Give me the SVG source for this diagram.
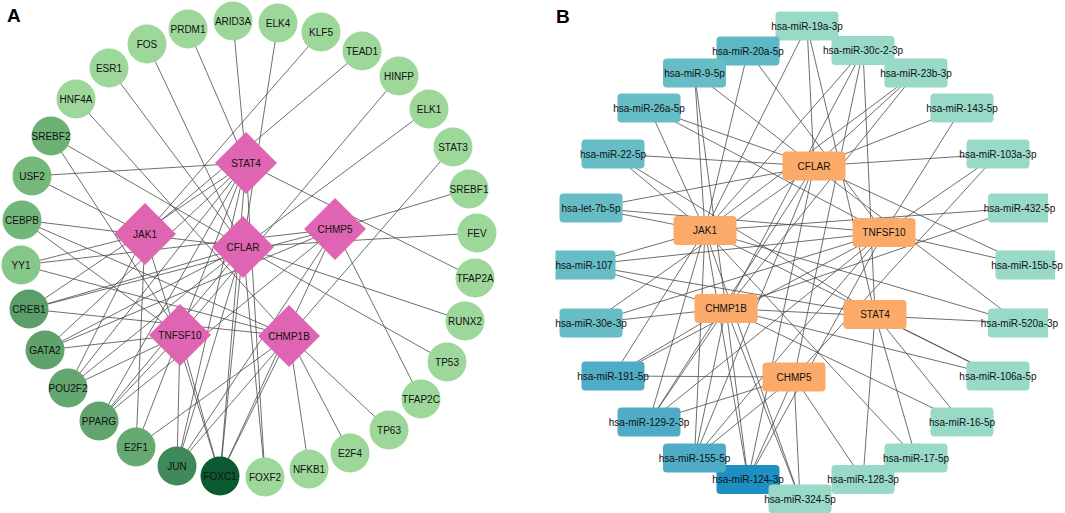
<svg xmlns="http://www.w3.org/2000/svg" width="1065" height="513" viewBox="0 0 1065 513">
<style>
text{font-family:"Liberation Sans",Arial,sans-serif;fill:#111;text-anchor:middle}
.ta{font-size:10px}
.tb{font-size:10px}
.lbl{font-size:19px;font-weight:bold;text-anchor:start;fill:#000}
.e line{stroke:#4a4a4a;stroke-width:0.8}
.lg{fill:#9dd79a}
.dm{fill:#df64b2}
.or{fill:#fbaa69}
.mt{fill:#98d9c8}
.tl{fill:#67bdc5}
.td{fill:#4eacc6}
</style>
<rect width="1065" height="513" fill="#fff"/>
<text class="lbl" x="7" y="22">A</text>
<text class="lbl" x="556" y="23">B</text>

<g id="edges-A" class="e">
<line x1="246" y1="163" x2="188" y2="29"/>
<line x1="246" y1="163" x2="233" y2="21"/>
<line x1="246" y1="163" x2="32" y2="176"/>
<line x1="246" y1="163" x2="475" y2="278"/>
<line x1="246" y1="163" x2="220" y2="476"/>
<line x1="246" y1="163" x2="177" y2="466"/>
<line x1="246" y1="163" x2="45" y2="350"/>
<line x1="246" y1="163" x2="68" y2="388"/>
<line x1="246" y1="163" x2="99" y2="421"/>
<line x1="246" y1="163" x2="29" y2="309"/>
<line x1="246" y1="163" x2="265" y2="477"/>
<line x1="246" y1="163" x2="136" y2="447"/>
<line x1="145" y1="234" x2="362" y2="51"/>
<line x1="145" y1="234" x2="321" y2="32"/>
<line x1="145" y1="234" x2="32" y2="176"/>
<line x1="145" y1="234" x2="136" y2="447"/>
<line x1="145" y1="234" x2="21" y2="265"/>
<line x1="145" y1="234" x2="220" y2="476"/>
<line x1="145" y1="234" x2="68" y2="388"/>
<line x1="243" y1="247" x2="147" y2="44"/>
<line x1="243" y1="247" x2="109" y2="68"/>
<line x1="243" y1="247" x2="51" y2="136"/>
<line x1="243" y1="247" x2="278" y2="23"/>
<line x1="243" y1="247" x2="429" y2="109"/>
<line x1="243" y1="247" x2="465" y2="321"/>
<line x1="243" y1="247" x2="447" y2="362"/>
<line x1="243" y1="247" x2="477" y2="233"/>
<line x1="243" y1="247" x2="29" y2="309"/>
<line x1="243" y1="247" x2="45" y2="350"/>
<line x1="243" y1="247" x2="68" y2="388"/>
<line x1="243" y1="247" x2="99" y2="421"/>
<line x1="243" y1="247" x2="177" y2="466"/>
<line x1="243" y1="247" x2="265" y2="477"/>
<line x1="243" y1="247" x2="220" y2="476"/>
<line x1="243" y1="247" x2="22" y2="220"/>
<line x1="335" y1="229" x2="469" y2="189"/>
<line x1="335" y1="229" x2="421" y2="399"/>
<line x1="335" y1="229" x2="45" y2="350"/>
<line x1="335" y1="229" x2="29" y2="309"/>
<line x1="335" y1="229" x2="99" y2="421"/>
<line x1="335" y1="229" x2="177" y2="466"/>
<line x1="335" y1="229" x2="220" y2="476"/>
<line x1="335" y1="229" x2="21" y2="265"/>
<line x1="180" y1="335" x2="51" y2="136"/>
<line x1="180" y1="335" x2="399" y2="76"/>
<line x1="180" y1="335" x2="45" y2="350"/>
<line x1="180" y1="335" x2="68" y2="388"/>
<line x1="180" y1="335" x2="177" y2="466"/>
<line x1="180" y1="335" x2="220" y2="476"/>
<line x1="180" y1="335" x2="99" y2="421"/>
<line x1="180" y1="335" x2="22" y2="220"/>
<line x1="289" y1="336" x2="76" y2="99"/>
<line x1="289" y1="336" x2="22" y2="220"/>
<line x1="289" y1="336" x2="21" y2="265"/>
<line x1="289" y1="336" x2="29" y2="309"/>
<line x1="289" y1="336" x2="136" y2="447"/>
<line x1="289" y1="336" x2="177" y2="466"/>
<line x1="289" y1="336" x2="220" y2="476"/>
<line x1="289" y1="336" x2="309" y2="469"/>
<line x1="289" y1="336" x2="350" y2="453"/>
<line x1="289" y1="336" x2="389" y2="430"/>
<line x1="289" y1="336" x2="453" y2="147"/>
</g>

<g id="n-FOS"><circle class="lg" cx="147" cy="44" r="19.5"/><text class="ta" x="147" y="47.5">FOS</text></g>
<g id="n-PRDM1"><circle class="lg" cx="188" cy="29" r="19.5"/><text class="ta" x="188" y="32.5">PRDM1</text></g>
<g id="n-ARID3A"><circle class="lg" cx="233" cy="21" r="19.5"/><text class="ta" x="233" y="24.5">ARID3A</text></g>
<g id="n-ELK4"><circle class="lg" cx="278" cy="23" r="19.5"/><text class="ta" x="278" y="26.5">ELK4</text></g>
<g id="n-KLF5"><circle class="lg" cx="321" cy="32" r="19.5"/><text class="ta" x="321" y="35.5">KLF5</text></g>
<g id="n-TEAD1"><circle class="lg" cx="362" cy="51" r="19.5"/><text class="ta" x="362" y="54.5">TEAD1</text></g>
<g id="n-HINFP"><circle class="lg" cx="399" cy="76" r="19.5"/><text class="ta" x="399" y="79.5">HINFP</text></g>
<g id="n-ELK1"><circle class="lg" cx="429" cy="109" r="19.5"/><text class="ta" x="429" y="112.5">ELK1</text></g>
<g id="n-STAT3"><circle class="lg" cx="453" cy="147" r="19.5"/><text class="ta" x="453" y="150.5">STAT3</text></g>
<g id="n-SREBF1"><circle class="lg" cx="469" cy="189" r="19.5"/><text class="ta" x="469" y="192.5">SREBF1</text></g>
<g id="n-FEV"><circle class="lg" cx="477" cy="233" r="19.5"/><text class="ta" x="477" y="236.5">FEV</text></g>
<g id="n-TFAP2A"><circle class="lg" cx="475" cy="278" r="19.5"/><text class="ta" x="475" y="281.5">TFAP2A</text></g>
<g id="n-RUNX2"><circle class="lg" cx="465" cy="321" r="19.5"/><text class="ta" x="465" y="324.5">RUNX2</text></g>
<g id="n-TP53"><circle class="lg" cx="447" cy="362" r="19.5"/><text class="ta" x="447" y="365.5">TP53</text></g>
<g id="n-TFAP2C"><circle class="lg" cx="421" cy="399" r="19.5"/><text class="ta" x="421" y="402.5">TFAP2C</text></g>
<g id="n-TP63"><circle class="lg" cx="389" cy="430" r="19.5"/><text class="ta" x="389" y="433.5">TP63</text></g>
<g id="n-E2F4"><circle class="lg" cx="350" cy="453" r="19.5"/><text class="ta" x="350" y="456.5">E2F4</text></g>
<g id="n-NFKB1"><circle class="lg" cx="309" cy="469" r="19.5"/><text class="ta" x="309" y="472.5">NFKB1</text></g>
<g id="n-FOXF2"><circle class="lg" cx="265" cy="477" r="19.5"/><text class="ta" x="265" y="480.5">FOXF2</text></g>
<g id="n-FOXC1"><circle cx="220" cy="476" r="19.5" fill="#0c5a32"/><text class="ta" x="220" y="479.5">FOXC1</text></g>
<g id="n-JUN"><circle cx="177" cy="466" r="19.5" fill="#3e8a5a"/><text class="ta" x="177" y="469.5">JUN</text></g>
<g id="n-E2F1"><circle cx="136" cy="447" r="19.5" fill="#66aa72"/><text class="ta" x="136" y="450.5">E2F1</text></g>
<g id="n-PPARG"><circle cx="99" cy="421" r="19.5" fill="#62a46e"/><text class="ta" x="99" y="424.5">PPARG</text></g>
<g id="n-POU2F2"><circle cx="68" cy="388" r="19.5" fill="#63a66f"/><text class="ta" x="68" y="391.5">POU2F2</text></g>
<g id="n-GATA2"><circle cx="45" cy="350" r="19.5" fill="#5fa26c"/><text class="ta" x="45" y="353.5">GATA2</text></g>
<g id="n-CREB1"><circle cx="29" cy="309" r="19.5" fill="#5c9e69"/><text class="ta" x="29" y="312.5">CREB1</text></g>
<g id="n-YY1"><circle cx="21" cy="265" r="19.5" fill="#86c78a"/><text class="ta" x="21" y="268.5">YY1</text></g>
<g id="n-CEBPB"><circle cx="22" cy="220" r="19.5" fill="#72b77a"/><text class="ta" x="22" y="223.5">CEBPB</text></g>
<g id="n-USF2"><circle cx="32" cy="176" r="19.5" fill="#74b97b"/><text class="ta" x="32" y="179.5">USF2</text></g>
<g id="n-SREBF2"><circle cx="51" cy="136" r="19.5" fill="#6db275"/><text class="ta" x="51" y="139.5">SREBF2</text></g>
<g id="n-HNF4A"><circle class="lg" cx="76" cy="99" r="19.5"/><text class="ta" x="76" y="102.5">HNF4A</text></g>
<g id="n-ESR1"><circle class="lg" cx="109" cy="68" r="19.5"/><text class="ta" x="109" y="71.5">ESR1</text></g>

<g id="n-A-STAT4"><polygon class="dm" points="246,132 277,163 246,194 215,163"/><text class="ta" x="246" y="166.5">STAT4</text></g>
<g id="n-A-JAK1"><polygon class="dm" points="145,203 176,234 145,265 114,234"/><text class="ta" x="145" y="237.5">JAK1</text></g>
<g id="n-A-CFLAR"><polygon class="dm" points="243,216 274,247 243,278 212,247"/><text class="ta" x="243" y="250.5">CFLAR</text></g>
<g id="n-A-CHMP5"><polygon class="dm" points="335,198 366,229 335,260 304,229"/><text class="ta" x="335" y="232.5">CHMP5</text></g>
<g id="n-A-TNFSF10"><polygon class="dm" points="180,304 211,335 180,366 149,335"/><text class="ta" x="180" y="338.5">TNFSF10</text></g>
<g id="n-A-CHMP1B"><polygon class="dm" points="289,305 320,336 289,367 258,336"/><text class="ta" x="289" y="339.5">CHMP1B</text></g>

<g id="edges-B" class="e">
<line x1="814" y1="166" x2="807" y2="26"/>
<line x1="814" y1="166" x2="694.5" y2="73"/>
<line x1="814" y1="166" x2="649" y2="108"/>
<line x1="814" y1="166" x2="613" y2="154"/>
<line x1="814" y1="166" x2="962" y2="108"/>
<line x1="814" y1="166" x2="998" y2="154"/>
<line x1="814" y1="166" x2="1019.5" y2="323"/>
<line x1="814" y1="166" x2="748" y2="479.5"/>
<line x1="814" y1="166" x2="694.5" y2="458"/>
<line x1="814" y1="166" x2="591" y2="323"/>
<line x1="814" y1="166" x2="649" y2="422"/>
<line x1="814" y1="166" x2="1027" y2="265"/>
<line x1="814" y1="166" x2="591" y2="208"/>
<line x1="814" y1="166" x2="916" y2="73"/>
<line x1="705" y1="230.5" x2="748" y2="51"/>
<line x1="705" y1="230.5" x2="694.5" y2="73"/>
<line x1="705" y1="230.5" x2="649" y2="108"/>
<line x1="705" y1="230.5" x2="613" y2="154"/>
<line x1="705" y1="230.5" x2="591" y2="208"/>
<line x1="705" y1="230.5" x2="807" y2="26"/>
<line x1="705" y1="230.5" x2="863" y2="50.5"/>
<line x1="705" y1="230.5" x2="916" y2="73"/>
<line x1="705" y1="230.5" x2="1019.5" y2="208"/>
<line x1="705" y1="230.5" x2="1019.5" y2="323"/>
<line x1="705" y1="230.5" x2="998" y2="376"/>
<line x1="705" y1="230.5" x2="916" y2="458"/>
<line x1="705" y1="230.5" x2="584" y2="265"/>
<line x1="705" y1="230.5" x2="748" y2="479.5"/>
<line x1="705" y1="230.5" x2="694.5" y2="458"/>
<line x1="705" y1="230.5" x2="800" y2="499"/>
<line x1="705" y1="230.5" x2="613" y2="376"/>
<line x1="705" y1="230.5" x2="649" y2="422"/>
<line x1="884" y1="232.5" x2="748" y2="51"/>
<line x1="884" y1="232.5" x2="649" y2="108"/>
<line x1="884" y1="232.5" x2="962" y2="108"/>
<line x1="884" y1="232.5" x2="998" y2="154"/>
<line x1="884" y1="232.5" x2="694.5" y2="458"/>
<line x1="884" y1="232.5" x2="748" y2="479.5"/>
<line x1="884" y1="232.5" x2="591" y2="208"/>
<line x1="884" y1="232.5" x2="584" y2="265"/>
<line x1="884" y1="232.5" x2="613" y2="376"/>
<line x1="884" y1="232.5" x2="649" y2="422"/>
<line x1="884" y1="232.5" x2="1027" y2="265"/>
<line x1="884" y1="232.5" x2="591" y2="323"/>
<line x1="726" y1="308.5" x2="694.5" y2="73"/>
<line x1="726" y1="308.5" x2="863" y2="50.5"/>
<line x1="726" y1="308.5" x2="916" y2="73"/>
<line x1="726" y1="308.5" x2="1019.5" y2="208"/>
<line x1="726" y1="308.5" x2="998" y2="376"/>
<line x1="726" y1="308.5" x2="962" y2="422"/>
<line x1="726" y1="308.5" x2="800" y2="499"/>
<line x1="726" y1="308.5" x2="694.5" y2="458"/>
<line x1="726" y1="308.5" x2="748" y2="479.5"/>
<line x1="726" y1="308.5" x2="591" y2="323"/>
<line x1="726" y1="308.5" x2="613" y2="376"/>
<line x1="726" y1="308.5" x2="649" y2="422"/>
<line x1="726" y1="308.5" x2="584" y2="265"/>
<line x1="726" y1="308.5" x2="1019.5" y2="323"/>
<line x1="875" y1="314.5" x2="998" y2="376"/>
<line x1="875" y1="314.5" x2="962" y2="422"/>
<line x1="875" y1="314.5" x2="916" y2="458"/>
<line x1="875" y1="314.5" x2="863" y2="479.5"/>
<line x1="875" y1="314.5" x2="807" y2="26"/>
<line x1="875" y1="314.5" x2="863" y2="50.5"/>
<line x1="875" y1="314.5" x2="584" y2="265"/>
<line x1="875" y1="314.5" x2="613" y2="154"/>
<line x1="794" y1="377" x2="613" y2="376"/>
<line x1="794" y1="377" x2="649" y2="422"/>
<line x1="794" y1="377" x2="863" y2="479.5"/>
<line x1="794" y1="377" x2="748" y2="479.5"/>
<line x1="794" y1="377" x2="694.5" y2="458"/>
<line x1="794" y1="377" x2="863" y2="50.5"/>
<line x1="794" y1="377" x2="998" y2="154"/>
<line x1="794" y1="377" x2="800" y2="499"/>
</g>

<g id="n-miR-19a-3p"><rect class="mt" x="775.5" y="11.5" width="63" height="29" rx="4"/><text class="tb" x="807" y="29.5">hsa-miR-19a-3p</text></g>
<g id="n-miR-30c-2-3p"><rect class="mt" x="831.5" y="36" width="63" height="29" rx="4"/><text class="tb" x="863" y="54">hsa-miR-30c-2-3p</text></g>
<g id="n-miR-23b-3p"><rect class="mt" x="884.5" y="58.5" width="63" height="29" rx="4"/><text class="tb" x="916" y="76.5">hsa-miR-23b-3p</text></g>
<g id="n-miR-143-5p"><rect class="mt" x="930.5" y="93.5" width="63" height="29" rx="4"/><text class="tb" x="962" y="111.5">hsa-miR-143-5p</text></g>
<g id="n-miR-103a-3p"><rect class="mt" x="966.5" y="139.5" width="63" height="29" rx="4"/><text class="tb" x="998" y="157.5">hsa-miR-103a-3p</text></g>
<g id="n-miR-432-5p"><path class="mt" d="M992,193.5H1048V222.5H992A4,4 0 0 1 988,218.5V197.5A4,4 0 0 1 992,193.5Z"/><text class="tb" x="1019.5" y="211.5">hsa-miR-432-5p</text></g>
<g id="n-miR-15b-5p"><path class="mt" d="M999.5,250.5H1055V279.5H999.5A4,4 0 0 1 995.5,275.5V254.5A4,4 0 0 1 999.5,250.5Z"/><text class="tb" x="1027" y="268.5">hsa-miR-15b-5p</text></g>
<g id="n-miR-520a-3p"><path class="mt" d="M992,308.5H1048V337.5H992A4,4 0 0 1 988,333.5V312.5A4,4 0 0 1 992,308.5Z"/><text class="tb" x="1019.5" y="326.5">hsa-miR-520a-3p</text></g>
<g id="n-miR-106a-5p"><rect class="mt" x="966.5" y="361.5" width="63" height="29" rx="4"/><text class="tb" x="998" y="379.5">hsa-miR-106a-5p</text></g>
<g id="n-miR-16-5p"><rect class="mt" x="930.5" y="407.5" width="63" height="29" rx="4"/><text class="tb" x="962" y="425.5">hsa-miR-16-5p</text></g>
<g id="n-miR-17-5p"><rect class="mt" x="884.5" y="443.5" width="63" height="29" rx="4"/><text class="tb" x="916" y="461.5">hsa-miR-17-5p</text></g>
<g id="n-miR-128-3p"><rect class="mt" x="831.5" y="465" width="63" height="29" rx="4"/><text class="tb" x="863" y="483">hsa-miR-128-3p</text></g>
<g id="n-miR-124-3p"><rect x="716.5" y="465" width="63" height="29" rx="4" fill="#1d8fc2"/><text class="tb" x="748" y="483">hsa-miR-124-3p</text></g>
<g id="n-miR-324-5p"><rect class="mt" x="768.5" y="484.5" width="63" height="29" rx="4"/><text class="tb" x="800" y="502.5">hsa-miR-324-5p</text></g>
<g id="n-miR-155-5p"><rect class="td" x="663" y="443.5" width="63" height="29" rx="4"/><text class="tb" x="694.5" y="461.5">hsa-miR-155-5p</text></g>
<g id="n-miR-129-2-3p"><rect class="td" x="617.5" y="407.5" width="63" height="29" rx="4"/><text class="tb" x="649" y="425.5">hsa-miR-129-2-3p</text></g>
<g id="n-miR-191-5p"><rect class="td" x="581.5" y="361.5" width="63" height="29" rx="4"/><text class="tb" x="613" y="379.5">hsa-miR-191-5p</text></g>
<g id="n-miR-30e-3p"><rect class="tl" x="559.5" y="308.5" width="63" height="29" rx="4"/><text class="tb" x="591" y="326.5">hsa-miR-30e-3p</text></g>
<g id="n-miR-107"><path class="tl" d="M555.5,250.5H611.5A4,4 0 0 1 615.5,254.5V275.5A4,4 0 0 1 611.5,279.5H555.5Z"/><text class="tb" x="584" y="268.5">hsa-miR-107</text></g>
<g id="n-let-7b-5p"><rect class="tl" x="559.5" y="193.5" width="63" height="29" rx="4"/><text class="tb" x="591" y="211.5">hsa-let-7b-5p</text></g>
<g id="n-miR-22-5p"><rect class="tl" x="581.5" y="139.5" width="63" height="29" rx="4"/><text class="tb" x="613" y="157.5">hsa-miR-22-5p</text></g>
<g id="n-miR-26a-5p"><rect class="tl" x="617.5" y="93.5" width="63" height="29" rx="4"/><text class="tb" x="649" y="111.5">hsa-miR-26a-5p</text></g>
<g id="n-miR-20a-5p"><rect x="716.5" y="36.5" width="63" height="29" rx="4" fill="#5db7c4"/><text class="tb" x="748" y="54.5">hsa-miR-20a-5p</text></g>
<g id="n-miR-9-5p"><rect class="tl" x="663" y="58.5" width="63" height="29" rx="4"/><text class="tb" x="694.5" y="76.5">hsa-miR-9-5p</text></g>

<g id="n-B-CFLAR"><rect class="or" x="782.5" y="151.5" width="63" height="29" rx="4"/><text class="tb" x="814" y="169.5">CFLAR</text></g>
<g id="n-B-JAK1"><rect class="or" x="673.5" y="216" width="63" height="29" rx="4"/><text class="tb" x="705" y="234">JAK1</text></g>
<g id="n-B-TNFSF10"><rect class="or" x="852.5" y="218" width="63" height="29" rx="4"/><text class="tb" x="884" y="236">TNFSF10</text></g>
<g id="n-B-CHMP1B"><rect class="or" x="694.5" y="294" width="63" height="29" rx="4"/><text class="tb" x="726" y="312">CHMP1B</text></g>
<g id="n-B-STAT4"><rect class="or" x="843.5" y="300" width="63" height="29" rx="4"/><text class="tb" x="875" y="318">STAT4</text></g>
<g id="n-B-CHMP5"><rect class="or" x="762.5" y="362.5" width="63" height="29" rx="4"/><text class="tb" x="794" y="380.5">CHMP5</text></g>
</svg>
